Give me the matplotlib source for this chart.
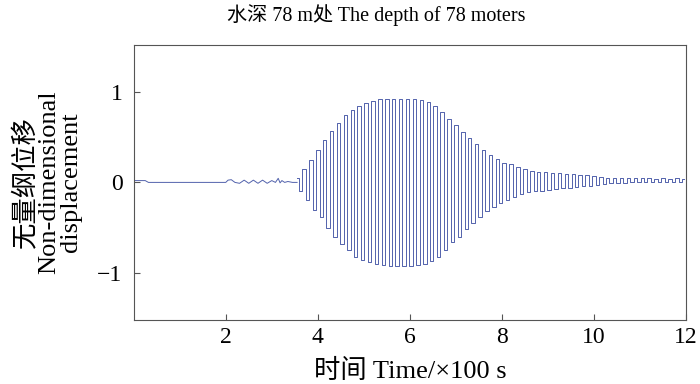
import matplotlib
matplotlib.use('Agg')
import matplotlib.pyplot as plt
import numpy as np

# lead-in part of the record (time in 100 s, displacement)
t_lead = [0.0, 0.25, 0.32, 0.4, 2.0, 2.05, 2.12, 2.2, 2.3, 2.4, 2.5, 2.6, 2.7,
          2.8, 2.9, 3.0, 3.08, 3.14, 3.18, 3.22, 3.28, 3.35, 3.45, 3.55]
y_lead = [0.02, 0.02, 0.0, 0.0, 0.0, 0.025, 0.03, 0.0, -0.01, 0.025, -0.01,
          0.025, -0.01, 0.025, -0.01, 0.02, 0.0, 0.045, -0.005, 0.02, 0.0,
          0.01, 0.0, 0.0]

# main wave train, one value per swing (step 0.075 starting at 3.55)
t_wave_start = 3.55
t_wave_step = 0.075
y_wave = [0.05, -0.1, 0.15, -0.2, 0.25, -0.3, 0.36, -0.38, 0.47, -0.5,
          0.57, -0.6, 0.66, -0.68, 0.74, -0.75, 0.8, -0.82, 0.85, -0.86,
          0.88, -0.88, 0.9, -0.9, 0.92, -0.91, 0.92, -0.92, 0.92, -0.92,
          0.92, -0.92, 0.92, -0.92, 0.92, -0.91, 0.91, -0.9, 0.89, -0.87,
          0.84, -0.82, 0.78, -0.75, 0.7, -0.66, 0.63, -0.6, 0.56, -0.52,
          0.49, -0.45, 0.42, -0.38, 0.36, -0.32, 0.3, -0.27, 0.26, -0.23,
          0.22, -0.19, 0.2, -0.16, 0.17, -0.13, 0.15, -0.11, 0.13, -0.1,
          0.12, -0.09, 0.11, -0.08, 0.1, -0.07, 0.1, -0.06, 0.09, -0.06,
          0.09, -0.05, 0.08, -0.04, 0.08, -0.04, 0.07, -0.03, 0.06, -0.02,
          0.05, -0.01, 0.05, -0.01, 0.05, -0.01, 0.05, 0.0, 0.05, 0.0,
          0.05, 0.0, 0.05, 0.0, 0.04, 0.0, 0.05, 0.0, 0.04, 0.0,
          0.05, 0.0, 0.04]

t_wave = t_wave_start + t_wave_step * np.arange(len(y_wave))

xticks = [2, 4, 6, 8, 10, 12]
yticks = [-1, 0, 1]

plt.rcParams['font.family'] = ['Liberation Serif', 'Noto Sans CJK SC']

fig = plt.figure(figsize=(7, 3.84), dpi=100)
ax = fig.add_axes([0.191, 0.167, 0.789, 0.716])

line_col = '#5262ac'
ax.plot(t_lead, y_lead, color=line_col, linewidth=0.7)
ax.plot(t_wave, y_wave, color=line_col, linewidth=0.7, drawstyle='steps-mid')

ax.set_xlim(0, 12)
ax.set_ylim(-1.52, 1.52)
ax.set_xticks(xticks)
ax.set_yticks(yticks)
ax.set_yticklabels(['\u22121', '0', '1'])
ax.tick_params(direction='in', length=4, labelsize=17, width=0.8,
               color='#555555')
ax.tick_params(axis='x', pad=5)
ax.tick_params(axis='y', pad=8)
for s in ax.spines.values():
    s.set_color('#555555')
    s.set_linewidth(0.8)

fig.text(376 / 700, 1 - 15 / 384, '水深 78 m处 The depth of 78 moters',
         fontsize=14.5, ha='center', va='center')
ax.set_xlabel('时间 Time/\u00d7100 s', fontsize=19, va='center')
ax.xaxis.set_label_coords(0.5, -0.185)
ax.set_ylabel('无量纲位移\nNon-dimensional\ndisplacement', fontsize=19,
              linespacing=1.0)
ax.yaxis.set_label_coords(-0.094, 0.5)

plt.savefig('out.png', dpi=100)
